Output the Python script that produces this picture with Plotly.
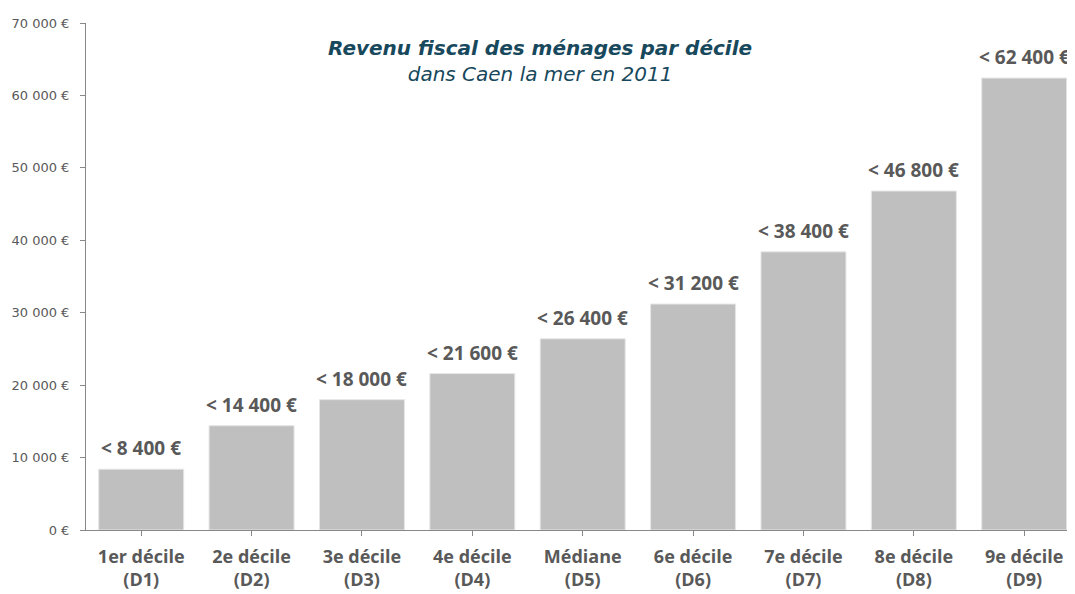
import plotly.graph_objects as go

categories = ["1er décile<br>(D1)", "2e décile<br>(D2)", "3e décile<br>(D3)", "4e décile<br>(D4)",
              "Médiane<br>(D5)", "6e décile<br>(D6)", "7e décile<br>(D7)", "8e décile<br>(D8)",
              "9e décile<br>(D9)"]
values = [8400, 14400, 18000, 21600, 26400, 31200, 38400, 46800, 62400]
bar_labels = ["< 8 400 €", "< 14 400 €", "< 18 000 €", "< 21 600 €", "< 26 400 €",
              "< 31 200 €", "< 38 400 €", "< 46 800 €", "< 62 400 €"]
y_tickvals = [0, 10000, 20000, 30000, 40000, 50000, 60000, 70000]
y_ticktext = ["0 €", "10 000 €", "20 000 €", "30 000 €", "40 000 €", "50 000 €", "60 000 €", "70 000 €"]
title_lines = ["<b>Revenu fiscal des ménages par décile</b>", "dans Caen la mer en 2011"]

xs = list(range(len(categories)))

fig = go.Figure()
fig.add_trace(go.Bar(
    x=xs, y=values,
    marker=dict(color="#bfbfbf", line=dict(color="#e6e6e6", width=1)),
    width=0.77,
))

for xi, v, lab in zip(xs, values, bar_labels):
    fig.add_annotation(
        x=xi, y=v, text=f"<b>{lab}</b>", showarrow=False,
        xanchor="center", yanchor="bottom", yshift=6,
        font=dict(family="Open Sans", size=19, color="#595959"),
    )

# page has 8px body margin; compensate so the plot lands where the reference is
fig.update_layout(
    width=1067, height=586,
    margin=dict(l=78, r=0, t=15, b=64),
    plot_bgcolor="white", paper_bgcolor="white",
    showlegend=False,
    font=dict(family="Open Sans", color="#595959"),
    xaxis=dict(
        range=[-0.5, 8.46],
        tickmode="array", tickvals=xs, ticktext=[f"<b>{c}</b>" for c in categories],
        tickfont=dict(family="Open Sans", size=18, color="#595959"),
        showline=True, linecolor="#888888", linewidth=1,
        ticks="outside", ticklen=5, tickcolor="#888888", tickson="boundaries",
        ticklabelstandoff=5,
        showgrid=False, zeroline=False, automargin=False,
    ),
    yaxis=dict(
        range=[0, 70000],
        tickmode="array", tickvals=y_tickvals, ticktext=y_ticktext,
        tickfont=dict(family="DejaVu Sans", size=13, color="#595959"),
        showline=True, linecolor="#888888", linewidth=1,
        ticks="outside", ticklen=5, tickcolor="#888888",
        ticklabelstandoff=8,
        showgrid=False, zeroline=False, automargin=False,
    ),
)

fig.add_annotation(
    text="<i>" + title_lines[0] + "<br>" + title_lines[1] + "</i>",
    x=0.459, y=1.0, xref="paper", yref="paper", xanchor="center", yanchor="top",
    yshift=-11, showarrow=False,
    font=dict(family="DejaVu Sans", size=20, color="#17485c"),
)

fig.write_html("out.html")
